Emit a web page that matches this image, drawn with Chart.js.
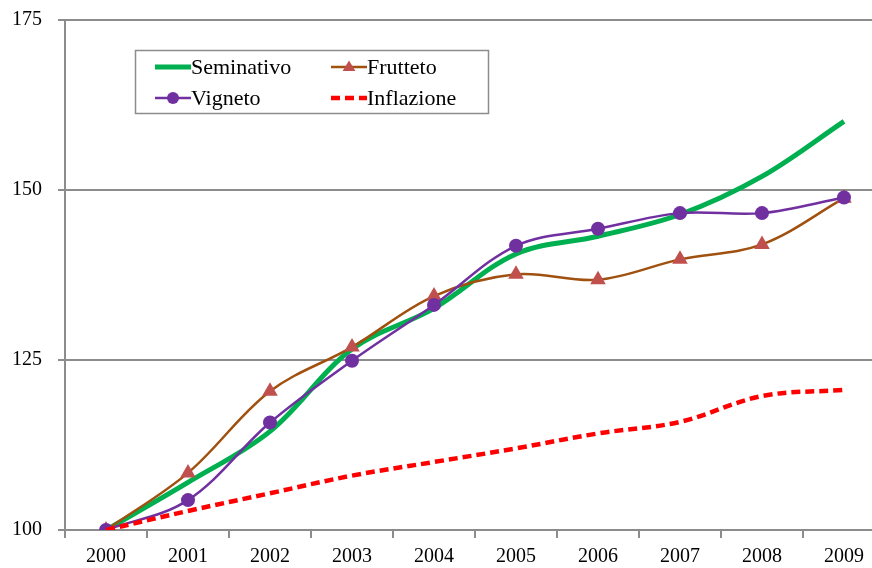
<!DOCTYPE html>
<html>
<head>
<meta charset="utf-8">
<script src="https://cdn.jsdelivr.net/npm/chart.js@4/dist/chart.umd.min.js"></script>
<style>
  html, body { margin: 0; padding: 0; background: #fff; overflow: hidden; }
  #wrap { width: 894px; height: 568px; }
</style>
</head>
<body>
<div id="wrap"><canvas id="myChart" width="894" height="568"></canvas></div>
<script>
// values (index, 2000 = 100)
var years = ['2000', '2001', '2002', '2003', '2004', '2005', '2006', '2007', '2008', '2009'];
var seminativo = [100, 107.0, 114.5, 126.6, 132.6, 140.6, 143.2, 146.4, 152.0, 160.1];
var frutteto = [100, 108.4, 120.4, 126.9, 134.4, 137.6, 136.8, 139.8, 142.0, 148.8];
var vigneto = [100, 104.4, 115.8, 124.9, 133.1, 141.8, 144.3, 146.6, 146.6, 148.9];
var inflazione = [100, 102.8, 105.4, 108.0, 110.0, 112.0, 114.2, 115.9, 119.7, 120.6];
var yTicks = [100, 125, 150, 175];

var FONT = '"Liberation Serif", "Times New Roman", serif';
var GRID = '#8c8c8c';

// legend drawn by hand so it can sit inside the plot, boxed like the original
var legendBox = {
    id: 'legendBox',
    afterDraw: function (chart) {
        var ctx = chart.ctx;
        var cols = [155, 331];
        var rows = [67, 98];
        ctx.save();
        ctx.fillStyle = '#fff';
        ctx.fillRect(135, 50, 354, 63);
        ctx.strokeStyle = GRID;
        ctx.lineWidth = 1.5;
        ctx.strokeRect(135.5, 50.5, 353, 63);
        chart.data.datasets.forEach(function (ds, i) {
            var x = cols[i % 2];
            var y = rows[Math.floor(i / 2)];
            ctx.beginPath();
            ctx.strokeStyle = ds.borderColor;
            ctx.lineWidth = ds.borderWidth;
            ctx.setLineDash(ds.borderDash || []);
            ctx.moveTo(x, y);
            ctx.lineTo(x + 36, y);
            ctx.stroke();
            ctx.setLineDash([]);
            if (ds.pointRadius > 0) {
                var r = ds.pointRadius - 1;
                var cx = x + 18;
                ctx.fillStyle = ds.pointBackgroundColor;
                ctx.beginPath();
                if (ds.pointStyle === 'triangle') {
                    ctx.moveTo(cx, y - r * 0.8);
                    ctx.lineTo(cx + r * 0.8, y + r * 0.5);
                    ctx.lineTo(cx - r * 0.8, y + r * 0.5);
                    ctx.closePath();
                } else {
                    ctx.arc(cx, y, r, 0, Math.PI * 2);
                }
                ctx.fill();
            }
            ctx.fillStyle = '#000';
            ctx.font = '22px ' + FONT;
            ctx.textBaseline = 'middle';
            ctx.textAlign = 'left';
            ctx.fillText(ds.label, x + 36, y + 1);
        });
        ctx.restore();
    }
};

var ctx = document.getElementById('myChart').getContext('2d');
var myChart = new Chart(ctx, {
    type: 'line',
    data: {
        labels: years,
        datasets: [
            {
                label: 'Seminativo',
                data: seminativo,
                borderColor: '#00b050',
                borderWidth: 5,
                pointRadius: 0,
                tension: 0.35,
                order: 3
            },
            {
                label: 'Frutteto',
                data: frutteto,
                borderColor: '#a0500f',
                borderWidth: 2.5,
                pointStyle: 'triangle',
                pointRadius: 9,
                pointBackgroundColor: '#c0504d',
                pointBorderColor: '#c0504d',
                pointBorderWidth: 0,
                tension: 0.35,
                order: 2
            },
            {
                label: 'Vigneto',
                data: vigneto,
                borderColor: '#7030a0',
                borderWidth: 2.5,
                pointStyle: 'circle',
                pointRadius: 7,
                pointBackgroundColor: '#7030a0',
                pointBorderColor: '#7030a0',
                pointBorderWidth: 0,
                tension: 0.35,
                order: 1
            },
            {
                label: 'Inflazione',
                data: inflazione,
                borderColor: '#ff0000',
                borderWidth: 4.5,
                borderDash: [9, 5],
                pointRadius: 0,
                tension: 0.35,
                order: 0
            }
        ]
    },
    options: {
        responsive: false,
        animation: false,
        events: [],
        layout: { padding: { top: 20, right: 0, left: 0, bottom: 0 } },
        plugins: {
            legend: { display: false },
            tooltip: { enabled: false }
        },
        scales: {
            x: {
                offset: true,
                grid: {
                    offset: true,
                    drawOnChartArea: false,
                    color: GRID,
                    lineWidth: 2,
                    tickLength: 8
                },
                border: { color: GRID, width: 2 },
                ticks: {
                    color: '#000',
                    font: { family: FONT, size: 20 },
                    padding: 7,
                    maxRotation: 0
                },
                afterFit: function (scale) {
                    scale.height = 38;
                    scale.paddingRight = 0;
                }
            },
            y: {
                min: 100,
                max: 175,
                afterBuildTicks: function (scale) {
                    scale.ticks = yTicks.map(function (v) { return { value: v }; });
                },
                grid: {
                    color: GRID,
                    lineWidth: 2,
                    tickLength: 7
                },
                border: { color: GRID, width: 2 },
                ticks: {
                    color: '#000',
                    font: { family: FONT, size: 20 },
                    padding: 16
                },
                afterFit: function (scale) {
                    scale.width = 65;
                    scale.paddingTop = 0;
                    scale.paddingBottom = 0;
                }
            }
        }
    },
    plugins: [legendBox]
});
</script>
</body>
</html>
